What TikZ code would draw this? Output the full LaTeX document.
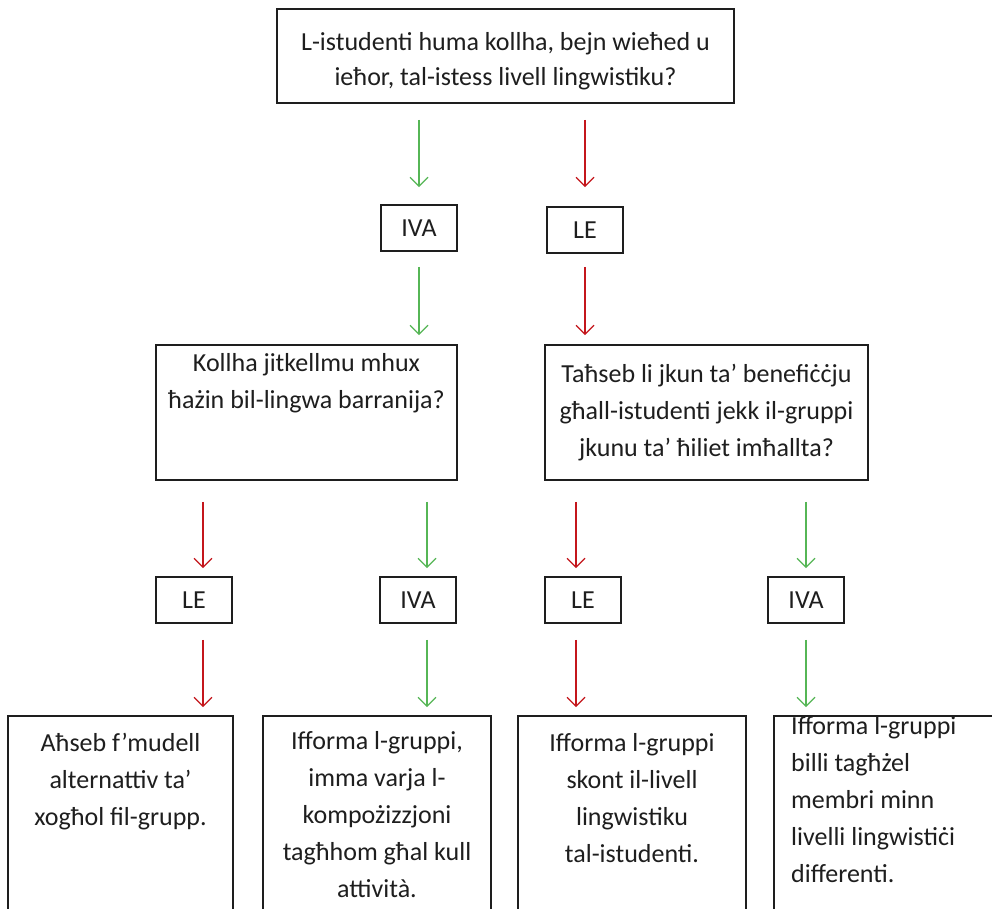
\documentclass[tikz,border=0pt]{standalone}
\usepackage{fontspec}
\setmainfont{Carlito}
\usetikzlibrary{arrows.meta}
\definecolor{gr}{RGB}{86,182,86}
\definecolor{rd}{RGB}{196,22,28}
\definecolor{bx}{RGB}{30,30,30}
\begin{document}
\begin{tikzpicture}[x=1pt,y=-1pt,
  every node/.style={font=\fontsize{26}{37}\selectfont, text=bx},
  box/.style={draw=bx, line width=1.8pt, inner sep=0pt, minimum width=#1},
  txt/.style={inner sep=0pt, align=center},
  arr/.style={line width=1.2pt, -{Straight Barb[length=9pt,width=18pt]}},
  garr/.style={arr, draw=gr},
  rarr/.style={arr, draw=rd}]
\clip (0,0) rectangle (992,909);
\fill[white] (0,0) rectangle (992,909);
% boxes
\node[box=457pt, minimum height=94pt] (top) at (505.5,56) {};
\node[txt, anchor=north, font=\fontsize{26}{35}\selectfont] (topt) at (505.5,32)
  {L-istudenti huma kollha, bejn wieħed u\\ieħor, tal-istess livell lingwistiku?};
\node[box=76pt, minimum height=46pt] (iva0) at (419,228) {IVA};
\node[box=76pt, minimum height=46pt] (le0) at (585,230) {LE};
\node[box=301pt, minimum height=135pt] (q1) at (306.5,412.5) {};
\node[box=323pt, minimum height=135pt] (q2) at (706.5,412.5) {};
\node[txt, anchor=north] (q1t) at (306.5,353) {Kollha jitkellmu mhux\\ħażin bil-lingwa barranija?};
\node[txt, anchor=north] (q2t) at (706.5,364) {Taħseb li jkun ta’ benefiċċju\\għall-istudenti jekk il-gruppi\\jkunu ta’ ħiliet imħallta?};
\node[box=76pt, minimum height=46pt] (le1) at (194,600) {LE};
\node[box=76pt, minimum height=46pt] (iva1) at (418,600) {IVA};
\node[box=76pt, minimum height=46pt] (le2) at (583,600) {LE};
\node[box=76pt, minimum height=46pt] (iva2) at (806,600) {IVA};
\node[box=225pt, minimum height=234pt] (b1) at (120.5,833) {};
\node[box=228pt, minimum height=234pt] (b2) at (377,833) {};
\node[box=228pt, minimum height=234pt] (b3) at (632,833) {};
\node[box=256pt, minimum height=234pt] (b4) at (902,833) {};
\node[txt, anchor=north] (b1t) at (120.5,733) {Aħseb f’mudell\\alternattiv ta’\\xogħol fil-grupp.};
\node[txt, anchor=north] (b2t) at (377,731) {Ifforma l-gruppi,\\imma varja l-\\kompożizzjoni\\tagħhom għal kull\\attività.};
\node[txt, anchor=north] (b3t) at (632,733) {Ifforma l-gruppi\\skont il-livell\\lingwistiku\\tal-istudenti.};
\node[txt, align=left, anchor=north west] (b4t) at (791,716) {Ifforma l-gruppi\\billi tagħżel\\membri minn\\livelli lingwistiċi\\differenti.};
% connectors
\draw[garr, shorten <=16pt, shorten >=17pt] (top.south -| iva0) -- (iva0.north);
\draw[rarr, shorten <=16pt, shorten >=19pt] (top.south -| le0) -- (le0.north);
\draw[garr, shorten <=15pt, shorten >=9pt] (iva0.south) -- (iva0.south |- q1.north);
\draw[rarr, shorten <=13pt, shorten >=9pt] (le0.south) -- (le0.south |- q2.north);
\draw[rarr, shorten <=21pt, shorten >=8pt] (q1.south -| 203,0) -- (le1.north -| 203,0);
\draw[garr, shorten <=21pt, shorten >=8pt] (q1.south -| 427,0) -- (iva1.north -| 427,0);
\draw[rarr, shorten <=21pt, shorten >=8pt] (q2.south -| 576,0) -- (le2.north -| 576,0);
\draw[garr, shorten <=21pt, shorten >=8pt] (q2.south -| 806,0) -- (iva2.north -| 806,0);
\draw[rarr, shorten <=16pt, shorten >=8pt] (le1.south -| 203,0) -- (b1.north -| 203,0);
\draw[garr, shorten <=16pt, shorten >=8pt] (iva1.south -| 427,0) -- (b2.north -| 427,0);
\draw[rarr, shorten <=16pt, shorten >=8pt] (le2.south -| 576,0) -- (b3.north -| 576,0);
\draw[garr, shorten <=16pt, shorten >=8pt] (iva2.south -| 806,0) -- (b4.north -| 806,0);
\end{tikzpicture}
\end{document}
